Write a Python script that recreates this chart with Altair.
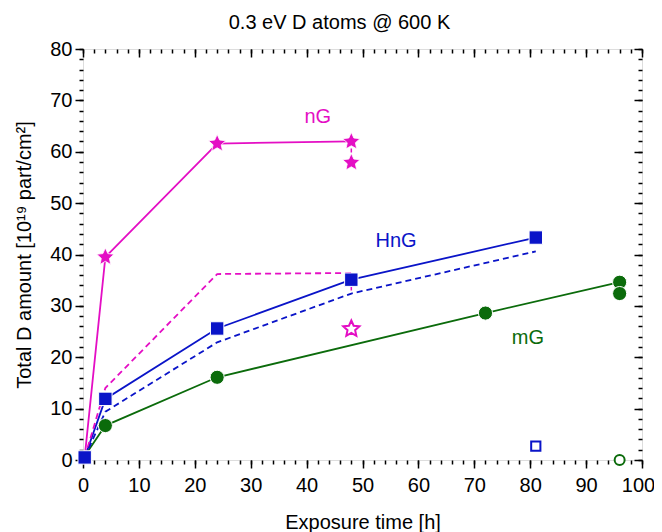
import altair as alt
import pandas as pd

# ---------------- data ----------------
# nG, solid line with filled stars
ng_x = [0.3, 4, 24, 48]
ng_y = [0.5, 39.5, 61.6, 62.0]
# nG, dashed line
ngd_x = [0.3, 4, 24, 48]
ngd_y = [0.5, 14.0, 36.2, 36.4]
# HnG, solid line with filled squares
hng_x = [0.3, 4, 24, 48, 81]
hng_y = [0.5, 11.9, 25.6, 35.1, 43.3]
# HnG, dashed line
hngd_x = [0.3, 4, 24, 48, 81]
hngd_y = [0.5, 9.4, 22.9, 32.4, 40.6]
# mG, solid line with filled circles
mg_x = [0.3, 4, 24, 72, 96]
mg_y = [0.8, 6.7, 16.1, 28.6, 34.6]

# additional single markers
ng_extra_x, ng_extra_y = [48], [57.9]            # filled star
mg_extra_x, mg_extra_y = [96], [32.4]            # filled circle
ng_open_x, ng_open_y = [48], [25.5]              # open star
hng_open_x, hng_open_y = [81], [2.7]             # open square
mg_open_x, mg_open_y = [96], [0.0]               # open circle

# short dashed connectors at x = 48
conn_x = [48, 48]
conn_y1 = [62.0, 36.4]
conn_y2 = [57.9, 33.0]

# series labels
label_text = ["nG", "HnG", "mG"]
label_x = [42.0, 56.0, 79.6]
label_y = [65.6, 41.4, 22.6]

x_major = list(range(0, 101, 10))
x_minor = list(range(0, 101, 2))
y_major = list(range(0, 81, 10))
y_minor = list(range(0, 81, 2))

# ---------------- styles ----------------
MAG = "#E40EC4"
BLU = "#0A14C8"
GRN = "#0B6B0B"
FONT = "Liberation Sans"
STAR = ("M0,-1L0.276,-0.38L0.951,-0.309L0.447,0.145L0.588,0.809L0,0.47"
        "L-0.588,0.809L-0.447,0.145L-0.951,-0.309L-0.276,-0.38Z")

# ---------------- tables ----------------
def frame(xs, ys, series, color):
    return pd.DataFrame({"x": xs, "y": ys, "series": series, "color": color})

solid = pd.concat([
    frame(mg_x, mg_y, "mG", GRN),
    frame(hng_x, hng_y, "HnG", BLU),
    frame(ng_x, ng_y, "nG", MAG),
])
dashed = pd.concat([
    frame(ngd_x, ngd_y, "nGd", MAG),
    frame(hngd_x, hngd_y, "HnGd", BLU),
])
stars = pd.concat([frame(ng_x[1:], ng_y[1:], "nG", MAG),
                   frame(ng_extra_x, ng_extra_y, "nG", MAG)])
squares = frame(hng_x, hng_y, "HnG", BLU)
circles = pd.concat([frame(mg_x[1:], mg_y[1:], "mG", GRN),
                     frame(mg_extra_x, mg_extra_y, "mG", GRN)])
open_star = frame(ng_open_x, ng_open_y, "nG", MAG)
open_sq = frame(hng_open_x, hng_open_y, "HnG", BLU)
open_circ = frame(mg_open_x, mg_open_y, "mG", GRN)
conn = pd.DataFrame({"x": conn_x, "y": conn_y1, "y2": conn_y2})
labels = pd.DataFrame({"t": label_text, "x": label_x, "y": label_y,
                       "color": [MAG, BLU, GRN]})

xs = alt.Scale(domain=[0, 100], nice=False, zero=False)
ys = alt.Scale(domain=[0, 80], nice=False, zero=False)

TICK = dict(domain=False, grid=False, tickColor="black", tickWidth=1.5)


def ax(orient, values, size, labels=False, title=None, offset=0, **kw):
    return alt.Axis(orient=orient, values=values, tickSize=size, labels=labels,
                    title=title, offset=offset, **TICK, **kw)


x_bottom_major = ax("bottom", x_major, 8, labels=True, title="Exposure time [h]",
                    labelFontSize=20, labelPadding=7, labelFont=FONT, labelColor="black",
                    labelFlush=False, labelOverlap=False,
                    labelOffset={"condition": {"test": "datum.value === 100", "value": -4},
                                 "value": 0},
                    titleFontSize=20, titleFont=FONT, titleFontWeight="normal",
                    titleColor="black", titleY=68, titleBaseline="alphabetic")
y_left_major = ax("left", y_major, 8, labels=True,
                  title="Total D amount [10\u00b9\u2079 part/cm\u00b2]",
                  labelFontSize=20, labelPadding=3, labelFont=FONT, labelColor="black",
                  labelFlush=False, labelOverlap=False,
                  titleFontSize=20, titleFont=FONT, titleFontWeight="normal",
                  titleColor="black", titleX=-53, titleBaseline="alphabetic")

layer_solid = alt.Chart(solid).mark_line(strokeWidth=1.8).encode(
    x=alt.X("x:Q", scale=xs, axis=x_bottom_major),
    y=alt.Y("y:Q", scale=ys, axis=y_left_major),
    color=alt.Color("color:N", scale=None),
    detail="series:N",
)
layer_dashed = alt.Chart(dashed).mark_line(strokeWidth=1.8, strokeDash=[6, 4]).encode(
    x=alt.X("x:Q", scale=xs, axis=ax("bottom", x_minor, 4)),
    y=alt.Y("y:Q", scale=ys, axis=ax("left", y_minor, 4)),
    color=alt.Color("color:N", scale=None),
    detail="series:N",
)
layer_conn = alt.Chart(conn).mark_rule(color=MAG, strokeWidth=1.5, strokeDash=[4, 3]).encode(
    x=alt.X("x:Q", scale=xs, axis=ax("top", x_major, 8, offset=-8)),
    y=alt.Y("y:Q", scale=ys, axis=ax("right", y_major, 8, offset=-8)),
    y2="y2:Q",
)
layer_circles = alt.Chart(circles).mark_point(
    shape="circle", filled=True, size=200, opacity=1, color=GRN,
    stroke="white", strokeWidth=1).encode(
    x=alt.X("x:Q", scale=xs, axis=ax("top", x_minor, 4, offset=-4)),
    y=alt.Y("y:Q", scale=ys, axis=ax("right", y_minor, 4, offset=-4)),
)
layer_squares = alt.Chart(squares).mark_point(
    shape="square", filled=True, size=180, opacity=1, color=BLU,
    stroke="white", strokeWidth=1).encode(
    x=alt.X("x:Q", scale=xs, axis=None),
    y=alt.Y("y:Q", scale=ys, axis=None),
)
layer_stars = alt.Chart(stars).mark_point(
    shape=STAR, filled=True, size=330, opacity=1, color=MAG,
    stroke="white", strokeWidth=0.8).encode(
    x=alt.X("x:Q", scale=xs, axis=None),
    y=alt.Y("y:Q", scale=ys, axis=None),
)
layer_open_star = alt.Chart(open_star).mark_point(
    shape=STAR, filled=True, size=290, opacity=1, fill="white",
    stroke=MAG, strokeWidth=2).encode(
    x=alt.X("x:Q", scale=xs, axis=None),
    y=alt.Y("y:Q", scale=ys, axis=None),
)
layer_open_sq = alt.Chart(open_sq).mark_point(
    shape="square", filled=True, size=85, opacity=1, fill="white",
    stroke=BLU, strokeWidth=2).encode(
    x=alt.X("x:Q", scale=xs, axis=None),
    y=alt.Y("y:Q", scale=ys, axis=None),
)
layer_open_circ = alt.Chart(open_circ).mark_point(
    shape="circle", filled=True, size=100, opacity=1, fill="white",
    stroke=GRN, strokeWidth=2).encode(
    x=alt.X("x:Q", scale=xs, axis=None),
    y=alt.Y("y:Q", scale=ys, axis=None),
)
layer_labels = alt.Chart(labels).mark_text(
    fontSize=20, font=FONT, align="center", baseline="alphabetic").encode(
    x=alt.X("x:Q", scale=xs, axis=None),
    y=alt.Y("y:Q", scale=ys, axis=None),
    text="t:N",
    color=alt.Color("color:N", scale=None),
)

chart = alt.layer(
    layer_solid, layer_dashed, layer_conn, layer_circles, layer_squares,
    layer_stars, layer_open_star, layer_open_sq, layer_open_circ, layer_labels,
).resolve_axis(
    x="independent", y="independent"
).properties(
    width=559,
    height=411,
    autosize=alt.AutoSizeParams(type="none"),
    padding={"left": 75, "top": 41, "right": 12, "bottom": 72},
    title=alt.Title("0.3 eV D atoms @ 600 K", fontSize=20, fontWeight="normal",
                    font=FONT, color="black", frame="group", anchor="middle",
                    dx=-23, baseline="alphabetic", offset=-10),
).configure_view(
    stroke="black", strokeWidth=1.5
).configure(background="white")

chart.save("out.html", embed_options={"renderer": "svg", "actions": False})
